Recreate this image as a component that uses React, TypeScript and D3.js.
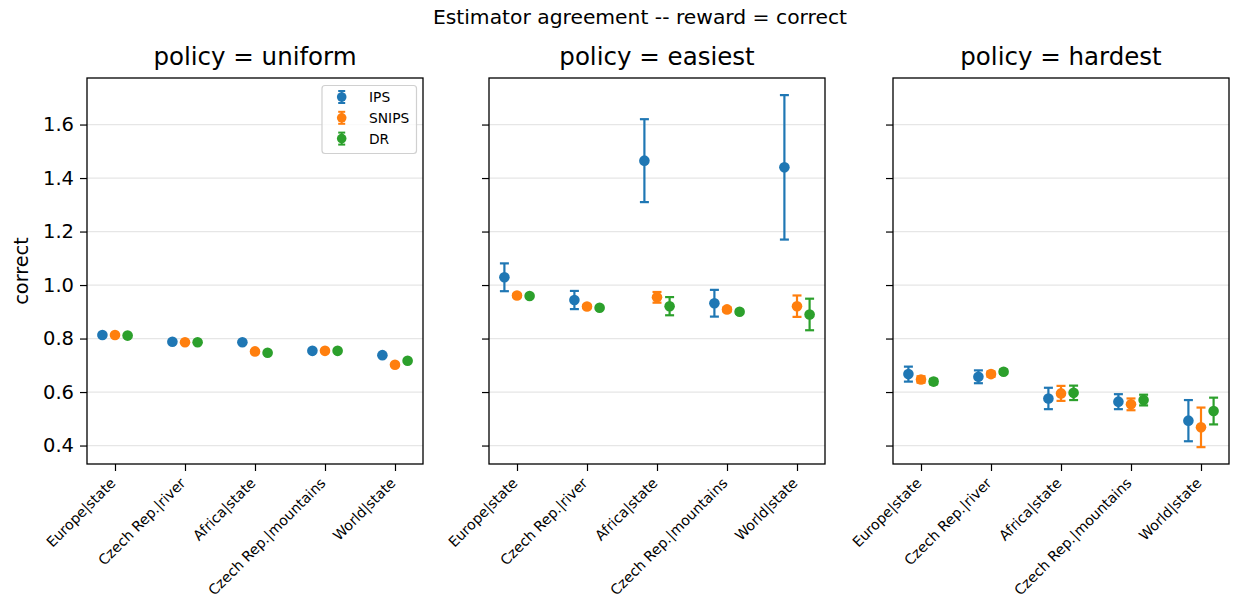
import React, { useEffect, useRef } from 'react';
import * as d3 from 'd3';

const categories = ['Europe|state', 'Czech Rep.|river', 'Africa|state', 'Czech Rep.|mountains', 'World|state'];
const policies = ['uniform', 'easiest', 'hardest'];
const estimators = ['IPS', 'SNIPS', 'DR'];
const colors = ['#1f77b4', '#ff7f0e', '#2ca02c'];
const yTicks = [0.4, 0.6, 0.8, 1.0, 1.2, 1.4, 1.6];

// values[policy][estimator][category]
const uniformValues = [
  [0.813, 0.788, 0.786, 0.754, 0.738],
  [0.813, 0.786, 0.752, 0.754, 0.702],
  [0.811, 0.786, 0.747, 0.754, 0.717],
];
const uniformErrors = [
  [0.004, 0.004, 0.004, 0.004, 0.004],
  [0.003, 0.003, 0.003, 0.003, 0.003],
  [0.003, 0.003, 0.003, 0.003, 0.003],
];
const easiestValues = [
  [1.029, 0.944, 1.465, 0.932, 1.440],
  [0.961, 0.920, 0.954, 0.909, 0.921],
  [0.959, 0.915, 0.921, 0.900, 0.890],
];
const easiestErrors = [
  [0.052, 0.034, 0.155, 0.050, 0.270],
  [0.006, 0.006, 0.020, 0.008, 0.040],
  [0.005, 0.005, 0.034, 0.007, 0.059],
];
const hardestValues = [
  [0.667, 0.657, 0.576, 0.564, 0.493],
  [0.647, 0.667, 0.595, 0.554, 0.468],
  [0.639, 0.676, 0.597, 0.570, 0.529],
];
const hardestErrors = [
  [0.028, 0.024, 0.040, 0.028, 0.077],
  [0.012, 0.010, 0.028, 0.022, 0.074],
  [0.010, 0.008, 0.027, 0.020, 0.050],
];
const allValues = [uniformValues, easiestValues, hardestValues];
const allErrors = [uniformErrors, easiestErrors, hardestErrors];

const W = 1233;
const H = 602;
const panelLefts = [87, 489, 893];
const panelWidth = 336;
const top = 78;
const bottom = 464;

export default function App() {
  const ref = useRef<SVGSVGElement>(null);

  useEffect(() => {
    const svg = d3.select(ref.current);
    svg.selectAll('*').remove();
    const font = 'DejaVu Sans, sans-serif';

    const y = d3.scaleLinear().domain([0.331, 1.774]).range([bottom, top]);

    svg.append('text')
      .attr('x', 640).attr('y', 24)
      .attr('text-anchor', 'middle')
      .attr('font-family', font).attr('font-size', 20.3)
      .text('Estimator agreement -- reward = correct');

    svg.append('text')
      .attr('transform', `translate(28,${(top + bottom) / 2}) rotate(-90)`)
      .attr('text-anchor', 'middle')
      .attr('font-family', font).attr('font-size', 19.3)
      .text('correct');

    policies.forEach((p, pi) => {
      const left = panelLefts[pi];
      const x = d3.scaleLinear().domain([-0.4, 4.4]).range([left, left + panelWidth]);
      const g = svg.append('g');

      // grid
      g.selectAll('line.grid').data(yTicks).join('line')
        .attr('x1', left).attr('x2', left + panelWidth)
        .attr('y1', d => y(d)).attr('y2', d => y(d))
        .attr('stroke', '#e6e6e6').attr('stroke-width', 1.3);

      // y axis
      const yAxis = d3.axisLeft(y).tickValues(yTicks).tickSize(7).tickPadding(6)
        .tickFormat(pi === 0 ? d3.format('.1f') : () => '');
      const ya = g.append('g').attr('transform', `translate(${left},0)`).call(yAxis);
      ya.select('.domain').remove();
      ya.selectAll('line').attr('stroke-width', 1.2);
      ya.selectAll('text').attr('font-family', font).attr('font-size', 19.5).attr('fill', '#000');

      // x axis
      const xAxis = d3.axisBottom(x).tickValues(d3.range(categories.length)).tickSize(7)
        .tickFormat((d: any) => categories[d]);
      const xa = g.append('g').attr('transform', `translate(0,${bottom})`).call(xAxis);
      xa.select('.domain').remove();
      xa.selectAll('line').attr('stroke-width', 1.2);
      xa.selectAll('text')
        .attr('font-family', font).attr('font-size', 14.2).attr('fill', '#000')
        .attr('text-anchor', 'end')
        .attr('y', 0).attr('dy', 0)
        .attr('transform', 'translate(1,20) rotate(-45)');

      // error bars and points
      estimators.forEach((e, ei) => {
        const off = (ei - 1) * 0.18;
        const vals = allValues[pi][ei];
        const errs = allErrors[pi][ei];
        const eg = g.append('g').attr('stroke', colors[ei]).attr('stroke-width', 2.2);
        vals.forEach((v, ci) => {
          const cx = x(ci + off);
          const y0 = y(v - errs[ci]);
          const y1 = y(v + errs[ci]);
          eg.append('line').attr('x1', cx).attr('x2', cx).attr('y1', y0).attr('y2', y1);
          eg.append('line').attr('x1', cx - 4.5).attr('x2', cx + 4.5).attr('y1', y0).attr('y2', y0);
          eg.append('line').attr('x1', cx - 4.5).attr('x2', cx + 4.5).attr('y1', y1).attr('y2', y1);
        });
        g.selectAll(`circle.e${ei}`).data(vals).join('circle')
          .attr('class', `e${ei}`)
          .attr('cx', (d, ci) => x(ci + off))
          .attr('cy', d => y(d))
          .attr('r', 5.3)
          .attr('fill', colors[ei]);
      });

      // frame
      g.append('rect')
        .attr('x', left).attr('y', top)
        .attr('width', panelWidth).attr('height', bottom - top)
        .attr('fill', 'none').attr('stroke', '#000').attr('stroke-width', 1.3);

      g.append('text')
        .attr('x', left + panelWidth / 2).attr('y', 65)
        .attr('text-anchor', 'middle')
        .attr('font-family', font).attr('font-size', 24.5)
        .text(`policy = ${p}`);

      if (pi === 0) {
        const lg = g.append('g');
        lg.append('rect')
          .attr('x', 322).attr('y', 85.5).attr('width', 94.5).attr('height', 68).attr('rx', 3)
          .attr('fill', 'white').attr('fill-opacity', 0.8)
          .attr('stroke', '#d0d0d0').attr('stroke-width', 1.2);
        estimators.forEach((e, ei) => {
          const ly = 97 + ei * 20.8;
          const lx = 341.7;
          const le = lg.append('g').attr('stroke', colors[ei]).attr('stroke-width', 2);
          le.append('line').attr('x1', lx).attr('x2', lx).attr('y1', ly - 6).attr('y2', ly + 6);
          le.append('line').attr('x1', lx - 3.5).attr('x2', lx + 3.5).attr('y1', ly - 6).attr('y2', ly - 6);
          le.append('line').attr('x1', lx - 3.5).attr('x2', lx + 3.5).attr('y1', ly + 6).attr('y2', ly + 6);
          lg.append('circle').attr('cx', lx).attr('cy', ly).attr('r', 4.8).attr('fill', colors[ei]);
          lg.append('text').attr('x', 369).attr('y', ly + 5)
            .attr('font-family', font).attr('font-size', 13.8).text(e);
        });
      }
    });
  }, []);

  return <svg ref={ref} width={W} height={H} style={{ display: 'block', position: 'absolute', left: 0, top: 0 }} />;
}
